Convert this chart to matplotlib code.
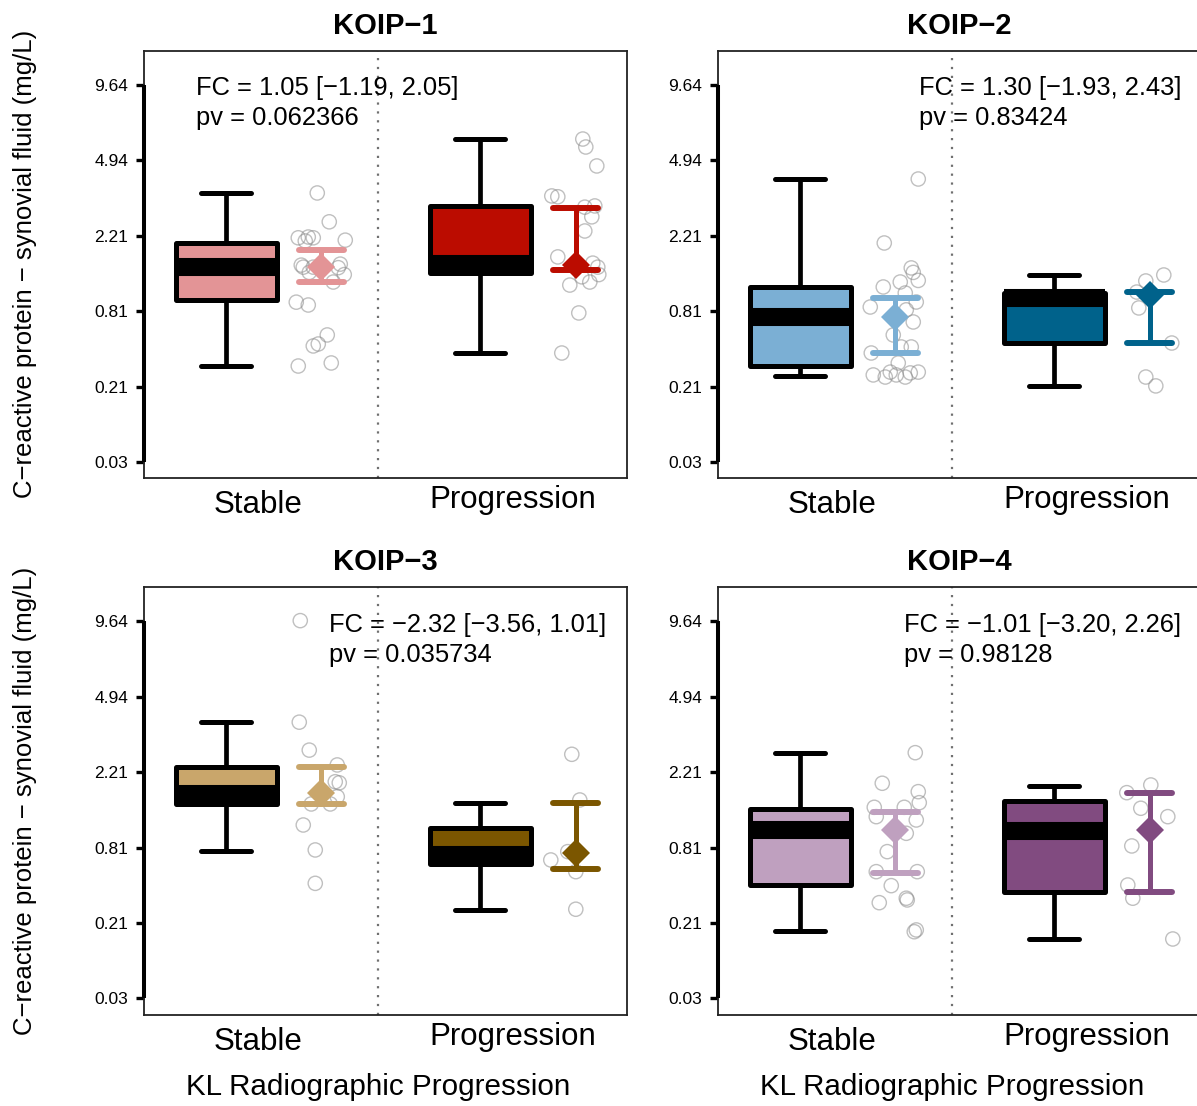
import numpy as np
import matplotlib
matplotlib.use("Agg")
import matplotlib.pyplot as plt

plt.rcParams['font.family'] = ['Liberation Sans', 'DejaVu Sans']

# ---- data (mg/L) ----
TITLES = ["KOIP\u22121", "KOIP\u22122", "KOIP\u22123", "KOIP\u22124"]
GROUPS = ["Stable", "Progression"]

FC_TEXT = ["FC = 1.05 [\u22121.19, 2.05]", "FC = 1.30 [\u22121.93, 2.43]",
           "FC = \u22122.32 [\u22123.56, 1.01]", "FC = \u22121.01 [\u22123.20, 2.26]"]
PV_TEXT = ["pv = 0.062366", "pv = 0.83424", "pv = 0.035734", "pv = 0.98128"]

# box stats: whislo, q1, med, q3, whishi
KOIP1_BOX_STABLE = [0.318, 0.948, 1.494, 2.018, 3.56]
KOIP1_BOX_PROG = [0.405, 1.381, 1.5625, 3.099, 6.04]
KOIP2_BOX_STABLE = [0.2615, 0.318, 0.743, 1.141, 4.111]
KOIP2_BOX_PROG = [0.2127, 0.483, 0.983, 1.063, 1.353]
KOIP3_BOX_STABLE = [0.772, 1.494, 1.698, 2.353, 3.836]
KOIP3_BOX_PROG = [0.2749, 0.6263, 0.7227, 1.086, 1.519]
KOIP4_BOX_STABLE = [0.178, 0.439, 1.049, 1.40, 2.77]
KOIP4_BOX_PROG = [0.1475, 0.387, 1.034, 1.553, 1.876]

# mean with CI: lo, mean, hi
KOIP1_CI = [[1.231, 1.503, 1.854], [1.437, 1.543, 3.032]]
KOIP2_CI = [[0.405, 0.74, 0.983], [0.483, 1.026, 1.071]]
KOIP3_CI = [[1.494, 1.72, 2.36], [0.577, 0.742, 1.519]]
KOIP4_CI = [[0.543, 1.049, 1.35], [0.389, 1.049, 1.726]]

# individual points and their horizontal jitter (pixels)
KOIP1_PTS_STABLE = [3.56, 2.60, 2.16, 2.18, 2.16, 2.10, 2.08, 1.50, 1.54, 1.49, 1.36,
                    1.23, 1.40, 1.50, 1.56, 0.925, 0.887, 0.554, 0.475, 0.459, 0.318, 0.337]
KOIP1_JIT_STABLE = [-4, 8, -23, -13, -8, 24, -16, -18, -20, 17, 23,
                    12, -12, -8, 19, -25, -13, 6, -3, -8, -23, 10]
KOIP1_PTS_PROG = [6.04, 5.61, 4.68, 3.45, 3.42, 3.06, 3.10, 2.75, 2.34, 1.71, 1.58,
                  1.50, 1.36, 1.32, 1.23, 1.18, 0.787, 0.405]
KOIP1_JIT_PROG = [7, 10, 21, -24, -18, 9, 19, 16, 9, -18, 17, 22, 23, 6, 14, -6, 3, -14]

KOIP2_PTS_STABLE = [4.11, 2.03, 1.485, 1.40, 1.257, 1.149, 1.231, 1.056, 0.861, 0.927, 0.825,
                    0.684, 0.554, 0.451, 0.451, 0.405, 0.337, 0.267, 0.256, 0.267, 0.278,
                    0.2825, 0.2825, 0.256]
KOIP2_JIT_STABLE = [23, -11, 16, 18, 23, -12, 5, 10, -25, 21, 11,
                    18, -2, 6, 16, -24, 3, -22, -10, 1, 15, 23, -5, 10]
KOIP2_PTS_PROG = [1.353, 1.248, 1.07, 0.849, 0.483, 0.256, 0.213]
KOIP2_JIT_PROG = [14, -4, -13, -11, 22, -4, 6]

KOIP3_PTS_STABLE = [9.71, 3.84, 2.85, 2.41, 1.95, 1.975, 1.64, 1.494, 1.494, 1.125, 0.781, 0.452]
KOIP3_JIT_STABLE = [-21, -22, -12, 16, 18, 14, 16, -10, 9, -18, -6, -6]
KOIP3_PTS_PROG = [2.72, 1.573, 0.668, 0.761, 0.552, 0.279]
KOIP3_JIT_PROG = [-4, 4, -25, -8, 0, 0]

KOIP4_PTS_STABLE = [2.77, 1.939, 1.748, 1.519, 1.43, 1.262, 1.43, 1.206, 1.00, 0.761, 0.552,
                    0.552, 0.434, 0.345, 0.317, 0.334, 0.181, 0.174]
KOIP4_JIT_STABLE = [20, -13, 23, 24, -21, -19, 9, 21, 11, -8, 22, -19, -4, 11, -16, 12, 21, 19]
KOIP4_PTS_PROG = [1.726, 1.899, 1.412, 1.262, 0.830, 0.439, 0.345, 0.1475]
KOIP4_JIT_PROG = [-23, 1, -9, 18, -18, -22, -17, 23]

COLORS = [("#E39496", "#BB0C00"), ("#7BAFD4", "#00628B"),
          ("#C9A66B", "#7B5600"), ("#BFA0BF", "#814B80")]

TICK_LABELS = ["0.03", "0.21", "0.81", "2.21", "4.94", "9.64"]

BOXES = [(KOIP1_BOX_STABLE, KOIP1_BOX_PROG), (KOIP2_BOX_STABLE, KOIP2_BOX_PROG),
         (KOIP3_BOX_STABLE, KOIP3_BOX_PROG), (KOIP4_BOX_STABLE, KOIP4_BOX_PROG)]
CIS = [KOIP1_CI, KOIP2_CI, KOIP3_CI, KOIP4_CI]
POINTS = [(KOIP1_PTS_STABLE, KOIP1_PTS_PROG), (KOIP2_PTS_STABLE, KOIP2_PTS_PROG),
          (KOIP3_PTS_STABLE, KOIP3_PTS_PROG), (KOIP4_PTS_STABLE, KOIP4_PTS_PROG)]
JITTER = [(KOIP1_JIT_STABLE, KOIP1_JIT_PROG), (KOIP2_JIT_STABLE, KOIP2_JIT_PROG),
          (KOIP3_JIT_STABLE, KOIP3_JIT_PROG), (KOIP4_JIT_STABLE, KOIP4_JIT_PROG)]
FC_X = [0.108, 0.416, 0.383, 0.385]

# ---- layout ----
W, H = 1197, 1106
PANEL_W = 483
BOX_X = [0.17, 0.696]
CI_X = [0.367, 0.894]
SEP_X = 0.484
LABEL_X = [0.236, 0.763]


def fwd(v):
    return np.power(np.clip(v, 1e-9, None), 0.25)


def inv(t):
    return np.power(np.clip(t, 0, None), 4)


fig = plt.figure(figsize=(W / 100, H / 100), dpi=100)
lefts = [144 / W, 718 / W]
bottoms = [1 - 478 / H, 1 - 1014.5 / H]
ax_w = PANEL_W / W
ax_h = 427.3 / H

tick_vals = inv(np.linspace(0.4056, 1.7621, 6))

for i in range(4):
    r, c = divmod(i, 2)
    ax = fig.add_axes([lefts[c], bottoms[r], ax_w, ax_h])
    ax.set_yscale('function', functions=(fwd, inv))
    ax.set_xlim(0, 1)
    ax.set_ylim(inv(0.348), inv(1.8855))

    for s in ax.spines.values():
        s.set_linewidth(1.3)
        s.set_color('#222222')
    ax.set_xticks([])
    ax.set_yticks(tick_vals)
    ax.set_yticklabels(TICK_LABELS)
    ax.yaxis.set_minor_locator(matplotlib.ticker.NullLocator())
    ax.tick_params(axis='y', length=5.8, width=2.4, pad=5.5, labelsize=12.5)
    ax.plot([0, 0], [tick_vals[0], tick_vals[-1]], transform=ax.get_yaxis_transform(),
            color='k', lw=2.9, clip_on=False, solid_capstyle='butt', zorder=5)

    ax.axvline(SEP_X, color='#707070', lw=1.6, ls=(0, (1, 3)), zorder=1)

    for g in range(2):
        col = COLORS[i][g]
        # jittered points
        xs = CI_X[g] + np.array(JITTER[i][g]) / PANEL_W
        ax.scatter(xs, POINTS[i][g], s=105, facecolors='none', edgecolors='#8C8C8C',
                   linewidths=1.0, alpha=0.55, zorder=2)

        wl, q1, med, q3, wh = BOXES[i][g]
        stats = [dict(whislo=wl, q1=q1, med=med, q3=q3, whishi=wh, fliers=[])]
        ax.bxp(stats, positions=[BOX_X[g]], widths=101 / PANEL_W, capwidths=50 / PANEL_W,
               patch_artist=True, showfliers=False, manage_ticks=False,
               boxprops=dict(facecolor=col, edgecolor='k', linewidth=3.6, joinstyle='round'),
               medianprops=dict(color='k', linewidth=13, solid_capstyle='butt'),
               whiskerprops=dict(color='k', linewidth=3.4, solid_capstyle='butt'),
               capprops=dict(color='k', linewidth=3.6, solid_capstyle='round'),
               zorder=3)

        lo, mean, hi = CIS[i][g]
        x0 = CI_X[g]
        hw = 22.5 / PANEL_W
        ax.plot([x0, x0], [lo, hi], color=col, lw=3.6, solid_capstyle='butt', zorder=4)
        ax.plot([x0 - hw, x0 + hw], [lo, lo], color=col, lw=4.3, solid_capstyle='round', zorder=4)
        ax.plot([x0 - hw, x0 + hw], [hi, hi], color=col, lw=4.3, solid_capstyle='round', zorder=4)
        ax.plot([x0], [mean], marker='D', ms=14, color=col, mew=0, zorder=4)

    ax.text(LABEL_X[0], -35 / 427.3, GROUPS[0], transform=ax.transAxes, ha='center',
            va='baseline', fontsize=22.5)
    ax.text(LABEL_X[1], -30 / 427.3, GROUPS[1], transform=ax.transAxes, ha='center',
            va='baseline', fontsize=22.5)

    ax.text(0.5, 1 + 16.7 / 427.3, TITLES[i], transform=ax.transAxes, ha='center',
            va='baseline', fontsize=21, fontweight='bold')
    ax.text(FC_X[i], 0.8963, FC_TEXT[i], transform=ax.transAxes, ha='left',
            va='baseline', fontsize=18.4, zorder=6)
    ax.text(FC_X[i], 0.826, PV_TEXT[i], transform=ax.transAxes, ha='left',
            va='baseline', fontsize=18.4, zorder=6)

for r in range(2):
    yc = bottoms[r] + ax_h / 2
    fig.text(25 / W, yc, "C\u2212reactive protein \u2212 synovial fluid (mg/L)",
             rotation=90, ha='center', va='center', fontsize=18.5)
for c, xc in enumerate([378, 952]):
    fig.text(xc / W, 1 - 1087 / H, "KL Radiographic Progression", ha='center',
             va='center', fontsize=21.3)

fig.savefig("out.png", dpi=100)
